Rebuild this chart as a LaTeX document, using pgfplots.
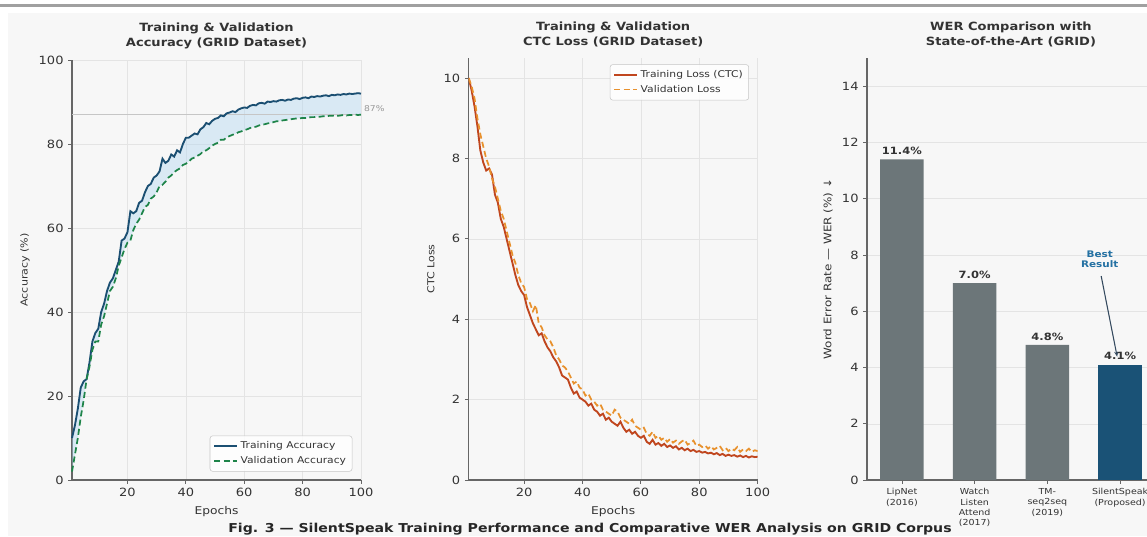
\documentclass[border=0pt]{standalone}
\usepackage{fontspec}
\setmainfont{DejaVu Sans}[FakeStretch=1.15]
\usepackage{pgfplots}
\usepackage{pgfplotstable}
\pgfplotsset{compat=1.18}
\usetikzlibrary{arrows.meta}

\definecolor{bgc}{HTML}{F7F7F7}
\definecolor{barc}{HTML}{A0A0A0}
\definecolor{spine}{HTML}{666666}
\definecolor{gridc}{HTML}{E4E4E4}
\definecolor{txt}{HTML}{333333}
\definecolor{navy}{HTML}{1B4F72}
\definecolor{vgreen}{HTML}{1E8449}
\definecolor{fillb}{HTML}{AED6F1}
\definecolor{lossr}{HTML}{C0461E}
\definecolor{losso}{HTML}{E8912D}
\definecolor{bgray}{HTML}{6C7679}
\definecolor{bblue}{HTML}{1A5276}
\definecolor{bestc}{HTML}{2471A3}
\definecolor{arrc}{HTML}{34495E}

% epoch, training accuracy, validation accuracy
\pgfplotstableread{
ep tr va
1 10.0 2.0
2 13.0 6.0
3 17.0 10.0
4 22.0 15.0
5 23.5 19.0
6 24.0 24.0
7 28.0 27.0
8 33.0 31.0
9 35.0 33.0
10 36.0 33.0
11 40.0 37.0
12 42.0 39.0
13 45.0 42.0
14 47.0 45.0
15 48.0 46.0
16 50.0 48.0
17 52.0 51.0
18 57.0 53.0
19 57.5 55.0
20 59.0 56.5
21 64.0 57.0
22 63.5 59.5
23 64.0 61.0
24 66.0 62.0
25 66.5 63.5
26 68.5 65.0
27 70.0 65.5
28 70.5 67.0
29 72.0 67.5
30 72.5 68.5
31 73.5 70.0
32 76.5 70.3
33 75.5 71.0
34 76.0 72.0
35 77.5 72.5
36 77.0 73.3
37 78.5 73.8
38 78.0 74.2
39 80.0 75.0
40 81.5 75.3
41 81.5 75.8
42 82.0 76.5
43 82.5 76.8
44 82.3 77.2
45 83.5 77.6
46 84.0 78.3
47 85.0 78.5
48 84.7 79.0
49 85.5 79.6
50 86.0 80.0
51 86.2 80.3
52 86.8 81.0
53 86.6 81.0
54 87.3 81.6
55 87.5 81.9
56 87.8 82.2
57 87.6 82.4
58 88.2 82.8
59 88.5 83.0
60 88.7 83.3
61 88.6 83.5
62 89.1 83.8
63 89.3 84.0
64 89.2 84.1
65 89.7 84.4
66 89.8 84.6
67 89.6 84.7
68 90.1 84.9
69 90.0 85.0
70 90.2 85.2
71 90.1 85.4
72 90.4 85.4
73 90.5 85.6
74 90.3 85.7
75 90.6 85.8
76 90.5 85.9
77 90.8 86.0
78 90.9 86.1
79 90.7 86.1
80 91.0 86.2
81 91.1 86.2
82 90.9 86.3
83 91.3 86.4
84 91.2 86.4
85 91.4 86.5
86 91.3 86.5
87 91.5 86.6
88 91.6 86.6
89 91.4 86.7
90 91.7 86.7
91 91.6 86.8
92 91.8 86.7
93 91.7 86.8
94 91.9 86.9
95 91.8 86.8
96 92.0 86.9
97 91.9 86.9
98 92.0 87.0
99 92.1 86.9
100 92.0 87.0
}\acctable

% epoch, training loss, validation loss
\pgfplotstableread{
ep tr va
1 10.0 10.0
2 9.7 9.8
3 9.3 9.5
4 8.8 9.0
5 8.2 8.6
6 7.9 8.3
7 7.7 8.0
8 7.75 7.8
9 7.6 7.5
10 7.1 7.3
11 6.9 7.0
12 6.5 6.7
13 6.3 6.5
14 6.0 6.2
15 5.7 5.9
16 5.4 5.6
17 5.1 5.4
18 4.85 5.1
19 4.7 4.9
20 4.6 4.8
21 4.3 4.5
22 4.1 4.4
23 3.9 4.2
24 3.75 4.35
25 3.6 3.9
26 3.65 3.8
27 3.45 3.6
28 3.3 3.5
29 3.2 3.45
30 3.05 3.3
31 2.95 3.1
32 2.8 3.0
33 2.6 2.85
34 2.55 2.8
35 2.5 2.7
36 2.3 2.55
37 2.15 2.4
38 2.2 2.45
39 2.05 2.3
40 2.0 2.25
41 1.95 2.1
42 1.85 2.15
43 1.9 2.0
44 1.75 1.95
45 1.7 1.85
46 1.6 1.9
47 1.65 1.75
48 1.5 1.7
49 1.55 1.65
50 1.45 1.6
51 1.4 1.75
52 1.35 1.7
53 1.45 1.55
54 1.3 1.5
55 1.2 1.45
56 1.25 1.4
57 1.15 1.5
58 1.2 1.35
59 1.1 1.3
60 1.05 1.25
61 1.1 1.3
62 0.95 1.15
63 0.9 1.1
64 1.0 1.2
65 0.88 1.05
66 0.92 1.1
67 0.85 1.0
68 0.9 1.05
69 0.82 0.95
70 0.86 1.02
71 0.8 0.93
72 0.84 0.98
73 0.76 0.9
74 0.8 0.96
75 0.74 1.0
76 0.78 0.88
77 0.72 0.92
78 0.75 0.98
79 0.7 0.85
80 0.72 0.88
81 0.68 0.82
82 0.7 0.86
83 0.66 0.78
84 0.68 0.84
85 0.64 0.76
86 0.67 0.8
87 0.62 0.85
88 0.65 0.74
89 0.6 0.8
90 0.63 0.72
91 0.6 0.78
92 0.62 0.74
93 0.58 0.82
94 0.61 0.7
95 0.57 0.76
96 0.6 0.72
97 0.56 0.78
98 0.59 0.7
99 0.57 0.74
100 0.58 0.72
}\losstable

\pgfplotsset{
  panel/.style={
    scale only axis,
    axis lines*=left,
    axis line style={draw=spine, line width=0.8pt},
    tick align=outside,
    tick style={draw=spine, line width=0.6pt},
    major tick length=2.8pt,
    grid=major,
    grid style={draw=gridc, line width=0.35pt},
    ticklabel style={font=\fontsize{8.5}{10}\selectfont, color=txt},
    xlabel style={font=\fontsize{8}{9.5}\selectfont, color=txt},
    ylabel style={font=\fontsize{7.2}{9}\selectfont, color=txt},
    title style={font=\bfseries\fontsize{8.5}{11}\selectfont, color=txt, align=center, yshift=-1pt},
    /pgf/number format/assume math mode=true,
    legend style={font=\fontsize{7}{8.5}\selectfont, draw=gridc!70!gray, fill=white,
      fill opacity=0.85, text opacity=1, rounded corners=2pt, text=txt,
      inner sep=2.5pt, row sep=0pt},
    legend cell align=left,
  }
}

\begin{document}
\begin{tikzpicture}
\fill[white] (0,0) rectangle (860.25pt,402pt);
\fill[bgc] (6pt,0) rectangle (860.25pt,392.25pt);
\fill[barc] (0,396.75pt) rectangle (860.25pt,399pt);

% panel 1: accuracy
\begin{axis}[panel,
  at={(54pt,42pt)}, anchor=south west,
  width=216.75pt, height=315pt,
  xmin=1, xmax=100, ymin=0, ymax=100,
  xtick={20,40,60,80,100}, ytick={0,20,40,60,80,100},
  xlabel={Epochs}, ylabel={Accuracy (\%)},
  title={Training \& Validation\\Accuracy (GRID Dataset)},
  legend style={at={(0.97,0.02)}, anchor=south east},
  clip=false]
  % shaded gap between the curves: validation, then the gap stacked on it
  \addplot[draw=none, forget plot, stack plots=y] table[x=ep, y=va] {\acctable};
  \addplot[fill=fillb, fill opacity=0.4, draw=none, forget plot, stack plots=y]
    table[x=ep, y expr=\thisrow{tr}-\thisrow{va}] {\acctable} \closedcycle;
  \addplot[draw=gray!45, line width=0.4pt, forget plot] coordinates {(1,87) (100,87)};
  \addplot[navy, line width=1.4pt] table[x=ep, y=tr] {\acctable};
  \addlegendentry{Training Accuracy}
  \addplot[vgreen, line width=1.3pt, dash pattern=on 4.5pt off 2.5pt] table[x=ep, y=va] {\acctable};
  \addlegendentry{Validation Accuracy}
  \node[anchor=south west, font=\fontsize{6}{7}\selectfont, text=gray!80, inner sep=1pt] at (axis cs:100.5,87.3) {87\%};
\end{axis}

% panel 2: CTC loss
\begin{axis}[panel,
  at={(351.5pt,42pt)}, anchor=south west,
  width=216.75pt, height=316.5pt,
  xmin=1, xmax=100, ymin=0, ymax=10.5,
  xtick={20,40,60,80,100}, ytick={0,2,4,6,8,10},
  xlabel={Epochs}, ylabel={CTC Loss},
  title={Training \& Validation\\CTC Loss (GRID Dataset)},
  legend style={at={(0.97,0.985)}, anchor=north east}]
  \addplot[lossr, line width=1.4pt] table[x=ep, y=tr] {\losstable};
  \addlegendentry{Training Loss (CTC)}
  \addplot[losso, line width=1.3pt, dash pattern=on 4.5pt off 2.5pt] table[x=ep, y=va] {\losstable};
  \addlegendentry{Validation Loss}
\end{axis}

% panel 3: WER comparison
\begin{axis}[panel,
  at={(650.25pt,42pt)}, anchor=south west,
  width=216pt, height=316.5pt,
  xmin=-0.48, xmax=3.48, ymin=0, ymax=15,
  xmajorgrids=false, ymajorgrids=true,
  xtick={0,1,2,3}, ytick={0,2,4,6,8,10,12,14},
  xticklabels={{LipNet\\(2016)},{Watch\\Listen\\Attend\\(2017)},{TM-\\seq2seq\\(2019)},{SilentSpeak\\(Proposed)}},
  xticklabel style={font=\fontsize{6.2}{7.8}\selectfont, align=center},
  ylabel={Word Error Rate — WER (\%) ↓},
  ylabel style={font=\fontsize{7.8}{9}\selectfont},
  title={WER Comparison with\\State-of-the-Art (GRID)},
  clip=false,
  nodes near coords={\pgfmathprintnumber[fixed,fixed zerofill,precision=1]{\pgfplotspointmeta}\%},
  every node near coord/.append style={font=\bfseries\fontsize{7.5}{9}\selectfont, text=txt}]
  \addplot[ybar, bar width=0.6, fill=bgray, draw=none] coordinates {(0,11.4) (1,7.0) (2,4.8)};
  \addplot[ybar, bar width=0.6, fill=bblue, draw=none] coordinates {(3,4.1)};
  \node[font=\bfseries\fontsize{6.8}{8}\selectfont, text=bestc, align=center] at (axis cs:2.72,7.85) {Best\\Result};
  \draw[-{Stealth[length=4pt,width=3pt]}, arrc, line width=0.8pt] (axis cs:2.74,7.25) -- (axis cs:2.96,4.38);
\end{axis}

\node[font=\bfseries\fontsize{9.2}{11}\selectfont, text=black!85] at (442.5pt,5.2pt)
  {Fig. 3 — SilentSpeak Training Performance and Comparative WER Analysis on GRID Corpus};
\pgfresetboundingbox
\useasboundingbox (0,0) rectangle (860.25pt,402pt);
\end{tikzpicture}
\end{document}
